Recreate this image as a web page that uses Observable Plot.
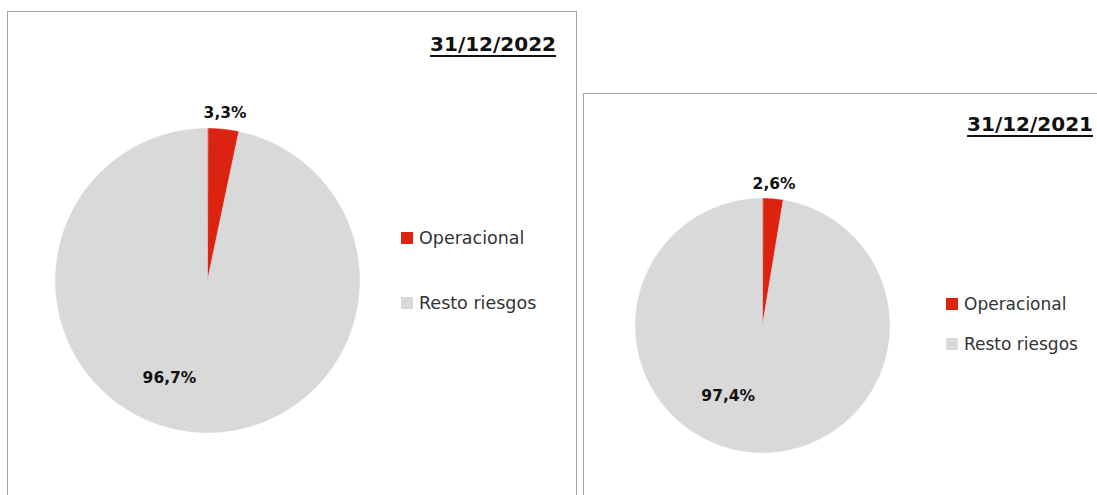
<!DOCTYPE html>
<html>
<head>
<meta charset="utf-8">
<script src="https://cdn.jsdelivr.net/npm/d3@7"></script>
<script src="https://cdn.jsdelivr.net/npm/@observablehq/plot@0.6"></script>
<style>
  html, body { margin: 0; padding: 0; background: #fff; }
  #page { position: relative; width: 1097px; height: 495px; overflow: hidden; background: #fff; font-family: "DejaVu Sans", sans-serif; }
  .box { position: absolute; border: 1px solid #a3a3a3; box-sizing: border-box; }
  .layer { position: absolute; top: 0; }
  .title { position: absolute; font-weight: bold; font-size: 20px; line-height: 20px; color: #111; text-align: right; text-decoration: underline; text-decoration-thickness: 1.5px; text-underline-offset: 4px; white-space: nowrap; }
  .legend { position: absolute; color: #333; }
  .item { display: flex; align-items: center; height: 18px; line-height: 18px; white-space: nowrap; }
  .swatch { width: 12px; height: 12px; margin-right: 6px; flex: none; }
</style>
</head>
<body>
<div id="page"></div>
<script>
// ---- data ----
const categories = ["Operacional", "Resto riesgos"];
const colors = ["#dc230f", "#d9d9d9"];
const dates = ["31/12/2022", "31/12/2021"];
const values2022 = [3.3, 96.7];
const values2021 = [2.6, 97.4];

// ---- layout (styling, not data) ----
const charts = [
  { date: dates[0], values: values2022,
    box: { left: 7, top: 11, width: 570, height: 600 },
    svg: { left: 0, width: 580 },
    cx: 207, cy: 280, r: 152,
    smallDy: 2, bigDx: -27, bigDy: -8,
    title: { right: 556, top: 34 },
    legend: { left: 401, top: 229, gap: 47, size: 17.5 } },
  { date: dates[1], values: values2021,
    box: { left: 583, top: 93, width: 600, height: 600 },
    svg: { left: 580, width: 517 },
    cx: 762, cy: 325, r: 127,
    smallDy: 0, bigDx: -27, bigDy: -18,
    title: { right: 1093, top: 114 },
    legend: { left: 946, top: 295, gap: 22, size: 17 } }
];

const fmt = v => d3.format(".1f")(v).replace(".", ",") + "%";
const page = document.getElementById("page");

for (const c of charts) {
  const box = document.createElement("div");
  box.className = "box";
  Object.assign(box.style, { left: c.box.left + "px", top: c.box.top + "px", width: c.box.width + "px", height: c.box.height + "px" });
  page.appendChild(box);

  const arcs = d3.pie().sort(null).value(d => d)(c.values);
  const pts = [];
  arcs.forEach((a, i) => {
    const cat = categories[i];
    pts.push({ cat, x: 0, y: 0 });
    const n = Math.max(2, Math.ceil((a.endAngle - a.startAngle) / 0.004));
    for (let k = 0; k <= n; k++) {
      const t = a.startAngle + (a.endAngle - a.startAngle) * k / n;
      pts.push({ cat, x: Math.sin(t), y: Math.cos(t) });
    }
  });
  const labels = arcs.map((a, i) => {
    const mid = (a.startAngle + a.endAngle) / 2;
    const small = c.values[i] < 10;
    const rr = small ? 1.12 : 0.7;
    return { cat: categories[i], text: fmt(c.values[i]), x: rr * Math.sin(mid), y: rr * Math.cos(mid), small };
  });

  const ox = c.svg.left;
  const plot = Plot.plot({
    width: c.svg.width,
    height: 495,
    margin: 0,
    x: { domain: [-1, 1], range: [c.cx - c.r - ox, c.cx + c.r - ox], axis: null },
    y: { domain: [-1, 1], range: [c.cy + c.r, c.cy - c.r], axis: null },
    color: { domain: categories, range: colors },
    style: { background: "none", overflow: "visible" },
    marks: [
      Plot.line(pts, { x: "x", y: "y", z: "cat", fill: "cat", stroke: "cat", strokeWidth: 0.6, curve: "linear-closed" }),
      Plot.text(labels.filter(d => d.small), { x: "x", y: "y", text: "text", dy: c.smallDy, fontFamily: "DejaVu Sans", fontWeight: "bold", fontSize: 15.5, fill: "#111" }),
      Plot.text(labels.filter(d => !d.small), { x: "x", y: "y", text: "text", dx: c.bigDx, dy: c.bigDy, fontFamily: "DejaVu Sans", fontWeight: "bold", fontSize: 15.5, fill: "#111" })
    ]
  });
  const layer = document.createElement("div");
  layer.className = "layer";
  layer.style.left = ox + "px";
  layer.style.width = c.svg.width + "px";
  layer.appendChild(plot);
  page.appendChild(layer);

  const title = document.createElement("div");
  title.className = "title";
  title.textContent = c.date;
  Object.assign(title.style, { left: (c.title.right - 300) + "px", width: "300px", top: c.title.top + "px" });
  page.appendChild(title);

  const leg = document.createElement("div");
  leg.className = "legend";
  Object.assign(leg.style, { left: c.legend.left + "px", top: c.legend.top + "px", fontSize: c.legend.size + "px" });
  categories.forEach((cat, i) => {
    const it = document.createElement("div");
    it.className = "item";
    if (i > 0) it.style.marginTop = c.legend.gap + "px";
    const sw = document.createElement("span");
    sw.className = "swatch";
    sw.style.background = colors[i];
    const tx = document.createElement("span");
    tx.textContent = cat;
    it.appendChild(sw); it.appendChild(tx);
    leg.appendChild(it);
  });
  page.appendChild(leg);
}
</script>
</body>
</html>
